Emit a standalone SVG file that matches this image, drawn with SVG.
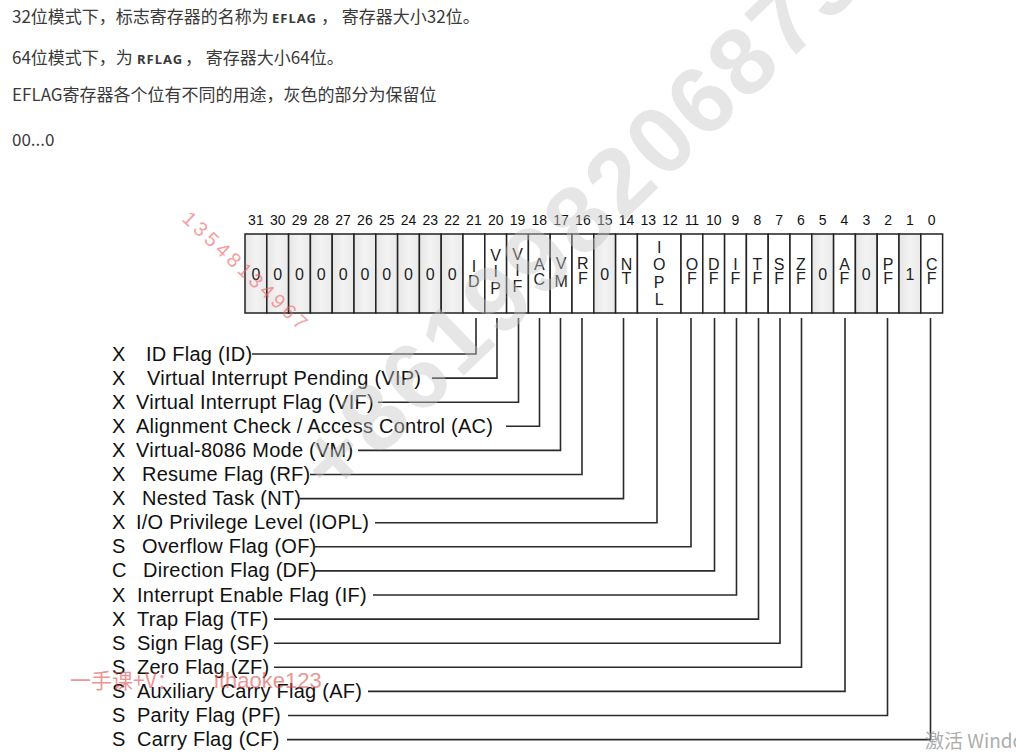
<svg xmlns="http://www.w3.org/2000/svg" width="1016" height="754" viewBox="0 0 1016 754">
<defs>
<linearGradient id="shade" x1="0" y1="0" x2="1" y2="0">
<stop offset="0" stop-color="#e6e6e6"/>
<stop offset="0.5" stop-color="#f3f3f3"/>
<stop offset="1" stop-color="#e9e9e9"/>
</linearGradient>
<style>
.hdr{font-family:"Noto Sans CJK SC","Noto Sans",sans-serif;font-size:17px;fill:#3a3a3a}
.code{font-family:"Noto Sans","Liberation Sans",sans-serif;font-size:13px;font-weight:bold;fill:#3a3a3a;letter-spacing:1px}
.num{font-family:"Liberation Sans",Arial,sans-serif;font-size:14px;fill:#111;text-anchor:middle}
.cell rect{stroke:#222;stroke-width:1.5}
.w{fill:#fff}
.g{fill:url(#shade)}
.ct{font-family:"Liberation Sans",Arial,sans-serif;font-size:16px;fill:#222;text-anchor:middle}
.lbl{font-family:"Liberation Sans",Arial,sans-serif;font-size:20px;letter-spacing:0.25px;fill:#111}
.conn path{fill:none;stroke:#2a2a2a;stroke-width:1.6}
.wm{font-family:"Liberation Sans",Arial,sans-serif}
</style>
</defs>
<rect width="1016" height="754" fill="#fff"/>

<g id="header">
<text class="hdr" x="12" y="23">32位模式下，标志寄存器的名称为 <tspan class="code" x="272">EFLAG</tspan><tspan x="321">， 寄存器大小32位。</tspan></text>
<text class="hdr" x="12" y="64">64位模式下，为 <tspan class="code" x="137">RFLAG</tspan><tspan x="185">， 寄存器大小64位。</tspan></text>
<text class="hdr" x="12" y="101">EFLAG寄存器各个位有不同的用途，灰色的部分为保留位</text>
<text class="hdr" x="12" y="146">00...0</text>
</g>

<g id="bit-numbers">
<text class="num" x="255.9" y="225">31</text>
<text class="num" x="277.7" y="225">30</text>
<text class="num" x="299.5" y="225">29</text>
<text class="num" x="321.3" y="225">28</text>
<text class="num" x="343.1" y="225">27</text>
<text class="num" x="364.9" y="225">26</text>
<text class="num" x="386.7" y="225">25</text>
<text class="num" x="408.5" y="225">24</text>
<text class="num" x="430.3" y="225">23</text>
<text class="num" x="452.1" y="225">22</text>
<text class="num" x="473.9" y="225">21</text>
<text class="num" x="495.7" y="225">20</text>
<text class="num" x="517.5" y="225">19</text>
<text class="num" x="539.3" y="225">18</text>
<text class="num" x="561.1" y="225">17</text>
<text class="num" x="582.9" y="225">16</text>
<text class="num" x="604.7" y="225">15</text>
<text class="num" x="626.5" y="225">14</text>
<text class="num" x="648.3" y="225">13</text>
<text class="num" x="670.1" y="225">12</text>
<text class="num" x="691.9" y="225">11</text>
<text class="num" x="713.7" y="225">10</text>
<text class="num" x="735.5" y="225">9</text>
<text class="num" x="757.3" y="225">8</text>
<text class="num" x="779.1" y="225">7</text>
<text class="num" x="800.9" y="225">6</text>
<text class="num" x="822.7" y="225">5</text>
<text class="num" x="844.5" y="225">4</text>
<text class="num" x="866.3" y="225">3</text>
<text class="num" x="888.1" y="225">2</text>
<text class="num" x="909.9" y="225">1</text>
<text class="num" x="931.7" y="225">0</text>
</g>

<g id="register">
<g id="bit31" class="cell"><rect class="g" x="245" y="234" width="21.8" height="79"/><text class="ct" x="255.9" y="280">0</text></g>
<g id="bit30" class="cell"><rect class="g" x="266.8" y="234" width="21.8" height="79"/><text class="ct" x="277.7" y="280">0</text></g>
<g id="bit29" class="cell"><rect class="g" x="288.6" y="234" width="21.8" height="79"/><text class="ct" x="299.5" y="280">0</text></g>
<g id="bit28" class="cell"><rect class="g" x="310.4" y="234" width="21.8" height="79"/><text class="ct" x="321.3" y="280">0</text></g>
<g id="bit27" class="cell"><rect class="g" x="332.2" y="234" width="21.8" height="79"/><text class="ct" x="343.1" y="280">0</text></g>
<g id="bit26" class="cell"><rect class="g" x="354" y="234" width="21.8" height="79"/><text class="ct" x="364.9" y="280">0</text></g>
<g id="bit25" class="cell"><rect class="g" x="375.8" y="234" width="21.8" height="79"/><text class="ct" x="386.7" y="280">0</text></g>
<g id="bit24" class="cell"><rect class="g" x="397.6" y="234" width="21.8" height="79"/><text class="ct" x="408.5" y="280">0</text></g>
<g id="bit23" class="cell"><rect class="g" x="419.4" y="234" width="21.8" height="79"/><text class="ct" x="430.3" y="280">0</text></g>
<g id="bit22" class="cell"><rect class="g" x="441.2" y="234" width="21.8" height="79"/><text class="ct" x="452.1" y="280">0</text></g>
<g id="bit21-ID" class="cell"><rect class="w" x="463" y="234" width="21.8" height="79"/><text class="ct" x="473.9" y="272">I</text><text class="ct" x="473.9" y="287">D</text></g>
<g id="bit20-VIP" class="cell"><rect class="w" x="484.8" y="234" width="21.8" height="79"/><text class="ct" x="495.7" y="261">V</text><text class="ct" x="495.7" y="277">I</text><text class="ct" x="495.7" y="294">P</text></g>
<g id="bit19-VIF" class="cell"><rect class="w" x="506.6" y="234" width="21.8" height="79"/><text class="ct" x="517.5" y="260">V</text><text class="ct" x="517.5" y="276">I</text><text class="ct" x="517.5" y="292">F</text></g>
<g id="bit18-AC" class="cell"><rect class="w" x="528.4" y="234" width="21.8" height="79"/><text class="ct" x="539.3" y="270">A</text><text class="ct" x="539.3" y="285">C</text></g>
<g id="bit17-VM" class="cell"><rect class="w" x="550.2" y="234" width="21.8" height="79"/><text class="ct" x="561.1" y="269">V</text><text class="ct" x="561.1" y="287">M</text></g>
<g id="bit16-RF" class="cell"><rect class="w" x="572" y="234" width="21.8" height="79"/><text class="ct" x="582.9" y="269">R</text><text class="ct" x="582.9" y="284">F</text></g>
<g id="bit15" class="cell"><rect class="g" x="593.8" y="234" width="21.8" height="79"/><text class="ct" x="604.7" y="280">0</text></g>
<g id="bit14-NT" class="cell"><rect class="w" x="615.6" y="234" width="21.8" height="79"/><text class="ct" x="626.5" y="270">N</text><text class="ct" x="626.5" y="284">T</text></g>
<g id="bit13-12-IOPL" class="cell"><rect class="w" x="637.4" y="234" width="43.6" height="79"/><text class="ct" x="659.2" y="253">I</text><text class="ct" x="659.2" y="270">O</text><text class="ct" x="659.2" y="288">P</text><text class="ct" x="659.2" y="305">L</text></g>
<g id="bit11-OF" class="cell"><rect class="w" x="681" y="234" width="21.8" height="79"/><text class="ct" x="691.9" y="270">O</text><text class="ct" x="691.9" y="284">F</text></g>
<g id="bit10-DF" class="cell"><rect class="w" x="702.8" y="234" width="21.8" height="79"/><text class="ct" x="713.7" y="270">D</text><text class="ct" x="713.7" y="284">F</text></g>
<g id="bit9-IF" class="cell"><rect class="w" x="724.6" y="234" width="21.8" height="79"/><text class="ct" x="735.5" y="270">I</text><text class="ct" x="735.5" y="284">F</text></g>
<g id="bit8-TF" class="cell"><rect class="w" x="746.4" y="234" width="21.8" height="79"/><text class="ct" x="757.3" y="270">T</text><text class="ct" x="757.3" y="284">F</text></g>
<g id="bit7-SF" class="cell"><rect class="w" x="768.2" y="234" width="21.8" height="79"/><text class="ct" x="779.1" y="270">S</text><text class="ct" x="779.1" y="284">F</text></g>
<g id="bit6-ZF" class="cell"><rect class="w" x="790" y="234" width="21.8" height="79"/><text class="ct" x="800.9" y="270">Z</text><text class="ct" x="800.9" y="284">F</text></g>
<g id="bit5" class="cell"><rect class="g" x="811.8" y="234" width="21.8" height="79"/><text class="ct" x="822.7" y="280">0</text></g>
<g id="bit4-AF" class="cell"><rect class="w" x="833.6" y="234" width="21.8" height="79"/><text class="ct" x="844.5" y="270">A</text><text class="ct" x="844.5" y="284">F</text></g>
<g id="bit3" class="cell"><rect class="g" x="855.4" y="234" width="21.8" height="79"/><text class="ct" x="866.3" y="280">0</text></g>
<g id="bit2-PF" class="cell"><rect class="w" x="877.2" y="234" width="21.8" height="79"/><text class="ct" x="888.1" y="270">P</text><text class="ct" x="888.1" y="284">F</text></g>
<g id="bit1" class="cell"><rect class="g" x="899" y="234" width="21.8" height="79"/><text class="ct" x="909.9" y="280">1</text></g>
<g id="bit0-CF" class="cell"><rect class="w" x="920.8" y="234" width="21.8" height="79"/><text class="ct" x="931.7" y="270">C</text><text class="ct" x="931.7" y="284">F</text></g>
</g>

<g id="connectors" class="conn">
<path d="M252,354 H476 V318"/>
<path d="M432,378.1 H497 V318"/>
<path d="M378,402.2 H518.5 V318"/>
<path d="M506,426.3 H539.5 V318"/>
<path d="M358,450.4 H560.5 V318"/>
<path d="M310,474.5 H582 V318"/>
<path d="M300,498.6 H623.5 V318"/>
<path d="M375,522.7 H657 V318"/>
<path d="M315,546.8 H691 V318"/>
<path d="M315,570.9 H714.5 V318"/>
<path d="M373,595 H736.5 V318"/>
<path d="M274,619.1 H758.5 V318"/>
<path d="M274,643.2 H780 V318"/>
<path d="M274,667.3 H801.5 V318"/>
<path d="M368,691.4 H845 V318"/>
<path d="M288,715.5 H887.5 V318"/>
<path d="M287,739.6 H930.5 V318"/>
</g>

<g id="flag-ID"><text class="lbl" x="112" y="360.5">X</text><text class="lbl" x="146" y="360.5">ID Flag (ID)</text></g>
<g id="flag-VIP"><text class="lbl" x="112" y="384.6">X</text><text class="lbl" x="147" y="384.6">Virtual Interrupt Pending (VIP)</text></g>
<g id="flag-VIF"><text class="lbl" x="112" y="408.7">X</text><text class="lbl" x="136" y="408.7">Virtual Interrupt Flag (VIF)</text></g>
<g id="flag-AC"><text class="lbl" x="112" y="432.8">X</text><text class="lbl" x="136" y="432.8">Alignment Check / Access Control (AC)</text></g>
<g id="flag-VM"><text class="lbl" x="112" y="456.9">X</text><text class="lbl" x="136" y="456.9">Virtual-8086 Mode (VM)</text></g>
<g id="flag-RF"><text class="lbl" x="112" y="481">X</text><text class="lbl" x="142" y="481">Resume Flag (RF)</text></g>
<g id="flag-NT"><text class="lbl" x="112" y="505.1">X</text><text class="lbl" x="142" y="505.1">Nested Task (NT)</text></g>
<g id="flag-IOPL"><text class="lbl" x="112" y="529.2">X</text><text class="lbl" x="136" y="529.2">I/O Privilege Level (IOPL)</text></g>
<g id="flag-OF"><text class="lbl" x="112" y="553.3">S</text><text class="lbl" x="142" y="553.3">Overflow Flag (OF)</text></g>
<g id="flag-DF"><text class="lbl" x="112" y="577.4">C</text><text class="lbl" x="143" y="577.4">Direction Flag (DF)</text></g>
<g id="flag-IF"><text class="lbl" x="112" y="601.5">X</text><text class="lbl" x="137" y="601.5">Interrupt Enable Flag (IF)</text></g>
<g id="flag-TF"><text class="lbl" x="112" y="625.6">X</text><text class="lbl" x="137" y="625.6">Trap Flag (TF)</text></g>
<g id="flag-SF"><text class="lbl" x="112" y="649.7">S</text><text class="lbl" x="137" y="649.7">Sign Flag (SF)</text></g>
<g id="flag-ZF"><text class="lbl" x="112" y="673.8">S</text><text class="lbl" x="137" y="673.8">Zero Flag (ZF)</text></g>
<g id="flag-AF"><text class="lbl" x="112" y="697.9">S</text><text class="lbl" x="137" y="697.9">Auxiliary Carry Flag (AF)</text></g>
<g id="flag-PF"><text class="lbl" x="112" y="722">S</text><text class="lbl" x="137" y="722">Parity Flag (PF)</text></g>
<g id="flag-CF"><text class="lbl" x="112" y="746.1">S</text><text class="lbl" x="137" y="746.1">Carry Flag (CF)</text></g>

<g id="watermarks">
<text class="wm" transform="translate(335,500) rotate(-44)" font-size="95" font-weight="bold" letter-spacing="4" fill="#c4c4c4" opacity="0.42">+861998206875</text>
<text class="wm" transform="translate(181,220) rotate(43)" font-size="20" letter-spacing="4" fill="#f06060" opacity="0.6">13548134967</text>
<text x="70" y="688" font-family="Noto Sans CJK SC,sans-serif" font-size="21" fill="#e05050" opacity="0.6">一手课+V：<tspan x="214" font-family="Liberation Sans,sans-serif" font-size="22">ithaoke123</tspan></text>
<text x="925" y="748" font-family="Noto Sans CJK SC,sans-serif" font-size="19" fill="#999" opacity="0.8">激活 Windows</text>
</g>
</svg>
